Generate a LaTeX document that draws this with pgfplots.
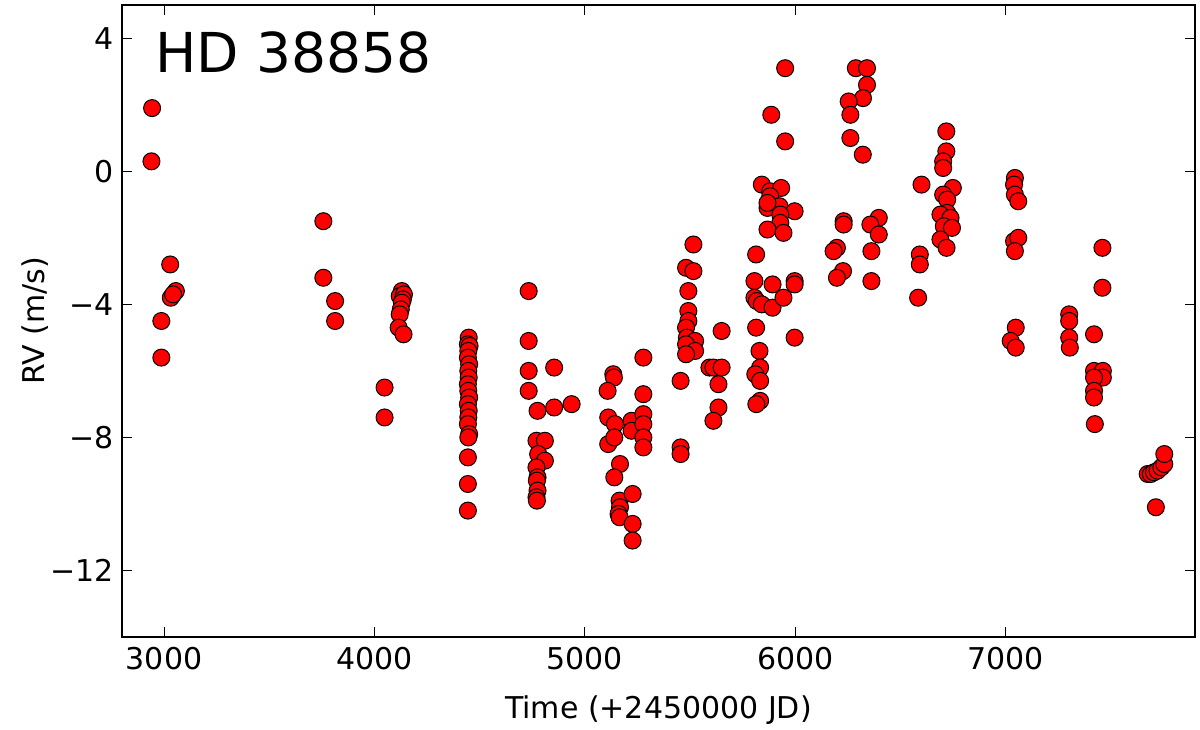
\documentclass[border=0pt]{standalone}
\usepackage{fontspec}
\setmainfont{DejaVu Sans}
\usepackage{pgfplots}
\usepackage{pgfplotstable}
\pgfplotsset{compat=1.18}
\pgfplotstableread{
x y
2943 1.9
2940 0.3
3029 -2.8
3032 -3.8
3056 -3.6
3043 -3.7
2987 -4.5
2987 -5.6
3757 -1.5
3757 -3.2
3813 -3.9
3813 -4.5
4048 -6.5
4048 -7.4
4130 -3.6
4120 -3.75
4140 -3.7
4135 -3.85
4130 -3.95
4125 -4.15
4120 -4.3
4115 -4.7
4138 -4.9
4448 -5.0
4444 -5.2
4452 -5.25
4446 -5.4
4444 -5.6
4450 -5.8
4446 -6.0
4448 -6.2
4444 -6.4
4446 -6.6
4450 -6.8
4444 -7.0
4448 -7.2
4446 -7.4
4444 -7.6
4450 -7.9
4446 -8.0
4444 -8.6
4444 -9.4
4444 -10.2
4733 -3.6
4733 -5.1
4733 -6.0
4733 -6.6
4854 -5.9
4775 -7.2
4854 -7.1
4937 -7.0
4770 -8.1
4810 -8.1
4778 -8.5
4810 -8.7
4770 -8.9
4775 -9.2
4772 -9.3
4775 -9.6
4770 -9.8
4772 -9.9
5135 -6.1
5138 -6.2
5108 -6.6
5278 -5.6
5278 -6.7
5111 -7.4
5143 -7.6
5222 -7.5
5222 -7.8
5278 -7.3
5278 -7.6
5278 -8.0
5278 -8.3
5111 -8.2
5140 -8.0
5167 -8.8
5140 -9.2
5165 -9.9
5167 -10.1
5160 -10.3
5165 -10.4
5227 -9.7
5227 -10.6
5227 -11.1
5455 -6.3
5455 -8.3
5455 -8.5
5516 -2.2
5481 -2.9
5516 -3.0
5492 -3.6
5492 -4.2
5492 -4.5
5481 -4.7
5485 -5.0
5524 -5.1
5481 -5.2
5524 -5.4
5481 -5.5
5592 -5.9
5650 -4.8
5611 -5.9
5650 -5.9
5635 -6.4
5635 -7.1
5611 -7.5
5814 -2.5
5806 -3.3
5806 -3.8
5817 -3.9
5841 -4.0
5892 -4.1
5892 -3.4
5944 -3.8
5997 -3.3
5997 -3.4
5814 -4.7
5997 -5.0
5830 -5.4
5833 -5.9
5810 -6.1
5833 -6.3
5833 -6.9
5815 -7.0
5952 3.1
5886 1.7
5952 0.9
5841 -0.4
5881 -0.6
5933 -0.5
5881 -0.75
5868 -1.1
5925 -1.05
5868 -0.95
5997 -1.2
5929 -1.3
5929 -1.55
5868 -1.75
5944 -1.85
6230 -1.5
6230 -1.6
6198 -2.3
6182 -2.4
6227 -3.0
6198 -3.2
6397 -1.4
6357 -1.6
6397 -1.9
6362 -2.4
6362 -3.3
6288 3.1
6341 3.1
6341 2.6
6322 2.2
6254 2.1
6262 1.7
6262 1.0
6321 0.5
6584 -3.8
6592 -2.5
6592 -2.8
6600 -0.4
6718 1.2
6718 0.6
6703 0.3
6703 0.1
6749 -0.5
6703 -0.7
6722 -0.85
6722 -1.25
6690 -1.3
6738 -1.4
6706 -1.65
6745 -1.7
6690 -2.05
6719 -2.3
7044 -0.2
7040 -0.4
7044 -0.7
7060 -0.9
7040 -2.1
7060 -2.0
7044 -2.4
7048 -4.7
7024 -5.1
7048 -5.3
7302 -4.3
7302 -4.5
7302 -5.0
7305 -5.3
7460 -2.3
7460 -3.5
7420 -4.9
7420 -6.0
7462 -6.0
7462 -6.2
7420 -6.2
7420 -6.6
7420 -6.8
7424 -7.6
7675 -9.1
7690 -9.1
7705 -9.05
7722 -9.0
7740 -8.9
7754 -8.8
7754 -8.5
7714 -10.1
}\rvdata
\begin{document}
\begin{tikzpicture}
\begin{axis}[
  width=536.5pt, height=316pt, scale only axis,
  xmin=2800, xmax=7900, ymin=-14, ymax=5,
  xtick={3000,4000,5000,6000,7000},
  xticklabels={3000,4000,5000,6000,7000},
  ytick={-12,-8,-4,0,4},
  yticklabels={−12,−8,−4,0,4},
  tick align=inside, major tick length=5pt,
  tick style={black, line width=0.5pt},
  axis line style={black, line width=1pt},
  ticklabel style={font=\fontsize{15}{18}\selectfont},
  xticklabel style={yshift=-1.5pt},
  yticklabel style={xshift=-0.5pt},
  xlabel={Time (+2450000 JD)}, ylabel={RV (m/s)},
  label style={font=\fontsize{15}{18}\selectfont},
  xlabel style={at={(axis description cs:0.5,-0.1155)}, anchor=center},
  ylabel style={at={(axis description cs:-0.0810,0.5)}, anchor=center},
]
\addplot[only marks, mark=*, mark size=4.25pt,
  mark options={fill=red, draw=black, line width=0.5pt}] table[x=x, y=y] {\rvdata};
\node[anchor=base west, inner sep=0pt, xshift=16.5pt, yshift=-33.5pt,
  font=\fontsize{27.5}{33}\selectfont] at (rel axis cs:0,1) {HD 38858};
\coordinate (ll) at (rel axis cs:0,0);
\coordinate (ur) at (rel axis cs:1,1);
\end{axis}
\pgfresetboundingbox
\path[use as bounding box] ([xshift=-61pt,yshift=-46pt]ll) rectangle ([xshift=2.5pt,yshift=2.5pt]ur);
\end{tikzpicture}
\end{document}
